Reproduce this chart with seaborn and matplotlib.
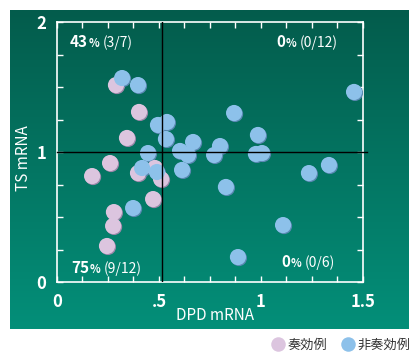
import numpy as np
import pandas as pd
import seaborn as sns
import matplotlib
matplotlib.use("Agg")
import matplotlib.pyplot as plt
from matplotlib import transforms as mtransforms
from matplotlib.colors import LinearSegmentedColormap

# data
resp_x = [0.289, 0.402, 0.343, 0.260, 0.172, 0.397, 0.480, 0.510, 0.471, 0.279, 0.275, 0.245]
resp_y = [1.515, 1.308, 1.108, 0.915, 0.815, 0.838, 0.877, 0.792, 0.638, 0.538, 0.431, 0.277]
nonresp_x = [0.319, 0.397, 0.495, 0.446, 0.417, 0.490, 0.373, 0.539, 0.534, 0.667, 0.603,
             0.642, 0.613, 1.456, 0.868, 0.799, 0.770, 0.985, 0.975, 1.005, 1.235, 1.333,
             0.828, 1.108, 0.887]
nonresp_y = [1.569, 1.515, 1.208, 0.992, 0.877, 0.846, 0.569, 1.231, 1.100, 1.077, 1.008,
             0.977, 0.862, 1.462, 1.300, 1.046, 0.977, 1.131, 0.985, 0.992, 0.838, 0.900,
             0.731, 0.438, 0.192]
groups = ["奏効例", "非奏効例"]
quad_pct = ["43", "0", "75", "0"]
quad_frac = ["(3/7)", "(0/12)", "(9/12)", "(0/6)"]
x_ticks = [0, 0.5, 1, 1.5]
x_ticklabels = ["0", ".5", "1", "1.5"]
y_ticks = [0, 1, 2]
y_ticklabels = ["0", "1", "2"]

df = pd.DataFrame({
    "DPD mRNA": resp_x + nonresp_x,
    "TS mRNA": resp_y + nonresp_y,
    "group": [groups[0]] * len(resp_x) + [groups[1]] * len(nonresp_x),
})

plt.rcParams["font.family"] = ["Liberation Sans Narrow", "Noto Sans CJK JP", "DejaVu Sans"]

fig = plt.figure(figsize=(4.2, 3.6), dpi=100)

# green gradient panel
ax_bg = fig.add_axes([10 / 420, 31 / 360, 399 / 420, 319 / 360])
green = LinearSegmentedColormap.from_list("g", ["#035c4c", "#048f79"])
ax_bg.imshow(np.linspace(0, 1, 256).reshape(-1, 1), cmap=green, aspect="auto",
             extent=[0, 1, 0, 1])
ax_bg.axis("off")

ax = fig.add_axes([57 / 420, 78 / 360, 306 / 420, 260 / 360])
ax.set_facecolor("none")
ax.set_zorder(2)

pal = {groups[0]: "#dcc5df", groups[1]: "#8dc1ea"}
shadow_pal = {groups[0]: "#9d88aa", groups[1]: "#5a88b2"}

# little drop shadow under every dot
shadow_tr = mtransforms.offset_copy(ax.transData, fig=fig, x=1, y=-1, units="dots")
sns.scatterplot(data=df, x="DPD mRNA", y="TS mRNA", hue="group", palette=shadow_pal,
                s=135, linewidth=0, legend=False, ax=ax, transform=shadow_tr, zorder=3)
sns.scatterplot(data=df, x="DPD mRNA", y="TS mRNA", hue="group", palette=pal,
                s=135, linewidth=0, ax=ax, zorder=4)

# quadrant lines
ax.plot([0, 1.52], [1, 1], color="black", lw=1, clip_on=False, zorder=5)
ax.plot([0.515, 0.515], [0, 2], color="black", lw=1, zorder=5)

ax.set_xlim(0, 1.5)
ax.set_ylim(0, 2)
ax.set_xticks(x_ticks)
ax.set_xticklabels(x_ticklabels, fontweight="bold")
ax.set_yticks(y_ticks)
ax.set_yticklabels(y_ticklabels, fontweight="bold")
ax.set_xticks(np.arange(0, 1.51, 0.125), minor=True)
ax.set_yticks(np.arange(0, 2.01, 0.25), minor=True)
ax.tick_params(which="both", direction="in", color="white", length=4, width=1,
               top=True, right=True)
ax.tick_params(labelcolor="white", labelsize=12, pad=8)
for sp in ax.spines.values():
    sp.set_color("white")
    sp.set_linewidth(1.2)

ax.set_xlabel("DPD mRNA", color="white", fontsize=11, va="top")
ax.xaxis.set_label_coords(0.516, -0.098)
ax.set_ylabel("TS mRNA", color="white", fontsize=11, va="center")
ax.yaxis.set_label_coords(-0.108, 0.477)

# quadrant labels
quad_pos = [(0.042, 0.892), (0.716, 0.892), (0.046, 0.023), (0.732, 0.046)]
for (qx, qy), pct, frac in zip(quad_pos, quad_pct, quad_frac):
    t1 = ax.text(qx, qy, pct, transform=ax.transAxes, fontsize=11, fontweight="bold",
                 color="white", va="bottom", zorder=6)
    t2 = ax.annotate("%", xy=(1, 0), xycoords=t1, xytext=(0.2, 0),
                     textcoords="offset points", fontsize=8, fontweight="bold",
                     color="white", va="bottom", zorder=6)
    ax.annotate(frac, xy=(1, 0), xycoords=t2, xytext=(2.5, 0),
                textcoords="offset points", fontsize=10, color="white",
                va="bottom", zorder=6)

sns.move_legend(ax, "center left", bbox_to_anchor=(0.646, 0.0417),
                bbox_transform=fig.transFigure, ncol=2, frameon=False, title=None,
                handlelength=1.0, handletextpad=0.2, columnspacing=1.1,
                borderpad=0, borderaxespad=0, markerscale=0.9,
                prop={"family": "Noto Sans CJK JP", "size": 9.5},
                labelcolor="#333333")

fig.savefig("out.png", dpi=100)
